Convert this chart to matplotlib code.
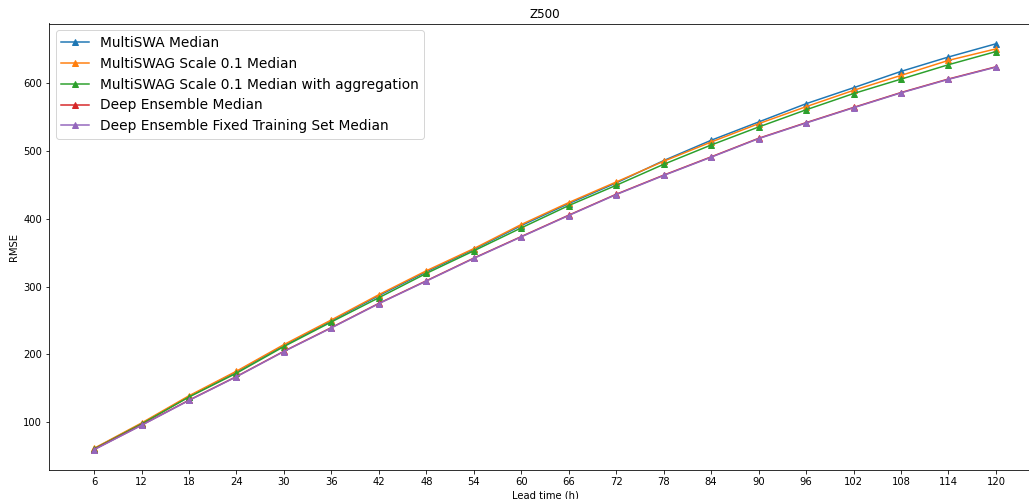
import matplotlib
matplotlib.use("Agg")
import matplotlib.pyplot as plt

# ── data ────────────────────────────────────────────────────────────────
lead_times = [6, 12, 18, 24, 30, 36, 42, 48, 54, 60,
              66, 72, 78, 84, 90, 96, 102, 108, 114, 120]

multiswa = [60.5, 97.5, 137.5, 174, 213, 249.5, 286.5, 321.8, 354.8, 390,
            422.5, 453, 486, 516, 543, 570, 593.6, 617.7, 639, 658.5]
multiswag = [61, 98.5, 138.7, 175, 214.3, 250.7, 288, 323.3, 356, 391.6,
             424, 454.4, 485, 513.4, 540.5, 565.6, 589.7, 611.8, 634, 651]
multiswag_agg = [60, 97, 136.8, 172, 211.4, 247.7, 283.5, 319.4, 352.7, 386.6,
                 419.6, 449.5, 480.5, 509, 535.6, 561, 585, 606.3, 627.6, 647]
deep_ens = [59.3, 95.4, 132.2, 167.1, 204.5, 239.4, 275.2, 308.5, 342, 373.8,
            405.4, 436.3, 464.5, 491.5, 518.9, 542, 564.5, 586.5, 606.5, 624.5]
deep_ens_fixed = [59, 95, 131.8, 166.7, 204, 238.9, 274.7, 308, 341.5, 373.3,
                  404.9, 435.8, 464, 491, 518.4, 541.5, 564, 586, 606, 624]

series = [
    ("MultiSWA Median", multiswa),
    ("MultiSWAG Scale 0.1 Median", multiswag),
    ("MultiSWAG Scale 0.1 Median with aggregation", multiswag_agg),
    ("Deep Ensemble Median", deep_ens),
    ("Deep Ensemble Fixed Training Set Median", deep_ens_fixed),
]

# ── figure ──────────────────────────────────────────────────────────────
fig = plt.figure(figsize=(1029 / 72, 499 / 72), dpi=72)
ax = fig.add_axes([49 / 1029, 29 / 499, 992 / 1029, 446.5 / 499])

for label, vals in series:
    ax.plot(lead_times, vals, marker="^", label=label)

ax.set_xticks(lead_times)
ax.set_title("Z500")
ax.set_xlabel("Lead time (h)")
ax.set_ylabel("RMSE")
ax.legend(loc="upper left", fontsize=13.7)

fig.savefig("out.png", dpi=72)
